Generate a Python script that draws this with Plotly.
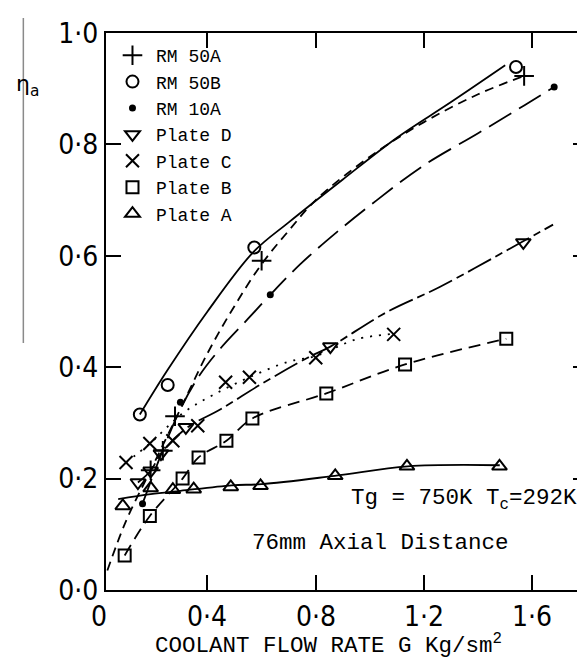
import plotly.graph_objects as go

# ---------------- data ----------------
rm50a_x = [0.19, 0.235, 0.28, 0.60, 1.57]
rm50a_y = [0.215, 0.25, 0.312, 0.591, 0.923]
rm50a_cx = [0.03, 0.1, 0.2, 0.3, 0.4, 0.5, 0.6, 0.7, 0.8, 1.0, 1.2, 1.4, 1.57]
rm50a_cy = [0.035, 0.125, 0.225, 0.325, 0.425, 0.51, 0.585, 0.645, 0.70, 0.778, 0.84, 0.89, 0.923]

rm50b_x = [0.15, 0.253, 0.573, 1.54]
rm50b_y = [0.315, 0.368, 0.615, 0.939]
rm50b_cx = [0.15, 0.25, 0.4, 0.57, 0.7, 0.9, 1.1, 1.3, 1.5]
rm50b_cy = [0.315, 0.393, 0.50, 0.607, 0.66, 0.737, 0.812, 0.876, 0.942]

rm10a_x = [0.16, 0.30, 0.632, 1.681]
rm10a_y = [0.155, 0.337, 0.530, 0.903]
rm10a_cx = [0.16, 0.23, 0.30, 0.37, 0.45, 0.55, 0.632, 0.743, 0.879, 1.026, 1.198, 1.40, 1.57, 1.681]
rm10a_cy = [0.155, 0.245, 0.325, 0.385, 0.435, 0.487, 0.53, 0.585, 0.643, 0.70, 0.762, 0.82, 0.87, 0.903]

plated_x = [0.143, 0.19, 0.228, 0.32, 0.854, 1.567]
plated_y = [0.193, 0.214, 0.245, 0.292, 0.437, 0.624]
plated_cx = [0.143, 0.19, 0.228, 0.32, 0.45, 0.6, 0.77, 0.854, 1.063, 1.258, 1.54, 1.677]
plated_cy = [0.193, 0.214, 0.245, 0.29, 0.325, 0.37, 0.417, 0.437, 0.499, 0.544, 0.619, 0.656]

platec_x = [0.099, 0.187, 0.272, 0.364, 0.467, 0.555, 0.80, 1.088]
platec_y = [0.229, 0.263, 0.268, 0.295, 0.373, 0.382, 0.417, 0.459]
platec_cx = [0.099, 0.187, 0.31, 0.42, 0.555, 0.7, 0.8, 0.95, 1.088]
platec_cy = [0.229, 0.263, 0.318, 0.35, 0.382, 0.41, 0.42, 0.45, 0.46]

plateb_x = [0.094, 0.187, 0.308, 0.367, 0.47, 0.566, 0.839, 1.13, 1.504]
plateb_y = [0.062, 0.133, 0.2, 0.238, 0.268, 0.308, 0.353, 0.405, 0.451]

platea_x = [0.087, 0.19, 0.272, 0.349, 0.486, 0.596, 0.872, 1.137, 1.479]
platea_y = [0.151, 0.183, 0.18, 0.181, 0.185, 0.187, 0.205, 0.222, 0.222]
platea_cx = [0.07, 0.19, 0.3, 0.49, 0.6, 0.87, 1.14, 1.48]
platea_cy = [0.163, 0.172, 0.178, 0.188, 0.19, 0.205, 0.222, 0.224]

x_ticks = [0.0, 0.4, 0.8, 1.2, 1.6]
x_tick_labels = ["0", "0·4", "0·8", "1·2", "1·6"]
y_ticks = [0.0, 0.2, 0.4, 0.6, 0.8, 1.0]
y_tick_labels = ["0·0", "0·2", "0·4", "0·6", "0·8", "1·0"]

x_range = [0.025, 1.806]
y_range = [0.0, 1.0]

# ---------------- layout constants ----------------
W, H = 585, 659
ML, MR, MT, MB = 98, 3, 25, 77
PW, PH = W - ML - MR, H - MT - MB

MONO = "Liberation Mono, Courier New, monospace"
TICKF = "DejaVu Sans Condensed, DejaVu Sans, sans-serif"
BLK = "black"

fig = go.Figure()

def curve(x, y, dash):
    fig.add_trace(go.Scatter(x=x, y=y, mode="lines", showlegend=False,
                             line=dict(color=BLK, width=1.8, dash=dash, shape="spline", smoothing=1.0),
                             hoverinfo="skip"))

curve(rm50b_cx, rm50b_cy, "solid")
curve(rm50a_cx, rm50a_cy, "9px,6px")
curve(rm10a_cx, rm10a_cy, "26px,9px")
curve(plated_cx, plated_cy, "26px,5px,8px,5px")
curve(platec_cx, platec_cy, "2px,7px")
curve(plateb_x, plateb_y, "12px,7px")
curve(platea_cx, platea_cy, "solid")

def pts(x, y, name, symbol, size, lw=2):
    fig.add_trace(go.Scatter(x=x, y=y, mode="markers", name=name,
                             marker=dict(symbol=symbol, size=size, color=BLK,
                                         line=dict(color=BLK, width=lw))))

pts(rm50a_x, rm50a_y, "RM 50A", "cross-thin-open", 14)
pts(rm50b_x, rm50b_y, "RM 50B", "circle-open", 12)
pts(rm10a_x, rm10a_y, "RM 10A", "circle", 7, 0)
pts(plated_x, plated_y, "Plate D", "triangle-down-open", 13)
pts(platec_x, platec_y, "Plate C", "x-thin-open", 13)
pts(plateb_x, plateb_y, "Plate B", "square-open", 12)
pts(platea_x, platea_y, "Plate A", "triangle-up-open", 13)

axis_common = dict(showline=True, linecolor=BLK, linewidth=2, mirror="ticks",
                   ticks="inside", ticklen=15, tickwidth=2, tickcolor=BLK,
                   showgrid=False, zeroline=False,
                   tickfont=dict(family=TICKF, size=28, color=BLK))

fig.update_xaxes(range=x_range, tickvals=x_ticks, showticklabels=False, **axis_common)
fig.update_yaxes(range=y_range, tickvals=y_ticks, ticktext=y_tick_labels,
                 ticklabelstandoff=0, **axis_common)

def xpaper(v):
    return (v - x_range[0]) / (x_range[1] - x_range[0])

XLAB_Y = (MT + PH - 608) / PH
annotations = [
    dict(x=xpaper(v), y=XLAB_Y, xref="paper", yref="paper", text=t, showarrow=False,
         xanchor="center", yanchor="middle",
         font=dict(family=TICKF, size=28, color=BLK))
    for v, t in zip(x_ticks, x_tick_labels)
]
annotations += [
    dict(x=1.773, y=0.162, xref="x", yref="y", text="Tg = 750K T<sub>c</sub>=292K",
         showarrow=False, xanchor="right", yanchor="middle",
         font=dict(family=MONO, size=22.5, color=BLK)),
    dict(x=1.522, y=0.084, xref="x", yref="y", text="76mm Axial Distance",
         showarrow=False, xanchor="right", yanchor="middle",
         font=dict(family=MONO, size=22.5, color=BLK)),
    dict(x=(321 - ML) / PW, y=(MT + PH - 636) / PH, xref="paper", yref="paper",
         text="COOLANT FLOW RATE G Kg/sm<sup>2</sup>", showarrow=False,
         xanchor="center", yanchor="middle",
         font=dict(family=MONO, size=22.5, color=BLK)),
    dict(x=(6 - ML) / PW, y=(MT + PH - 78) / PH, xref="paper", yref="paper",
         text="η<sub>a</sub>", showarrow=False, xanchor="left", yanchor="middle",
         font=dict(family="DejaVu Sans, sans-serif", size=22, color=BLK)),
]

shapes = [
    dict(type="line", xref="paper", yref="paper",
         x0=(15 - ML) / PW, x1=(15 - ML) / PW,
         y0=(MT + PH - 10) / PH, y1=(MT + PH - 335) / PH,
         line=dict(color="#8a8a8a", width=1.5)),
]

fig.update_layout(
    width=W, height=H,
    margin=dict(l=ML, r=MR, t=MT, b=MB, pad=0),
    paper_bgcolor="white", plot_bgcolor="white",
    showlegend=True,
    legend=dict(x=(101 - ML) / PW, y=(MT + PH - 29) / PH, xanchor="left", yanchor="top",
                bgcolor="rgba(0,0,0,0)", borderwidth=0, itemwidth=37,
                font=dict(family=MONO, size=18, color=BLK), tracegroupgap=0),
    annotations=annotations, shapes=shapes,
)

fig.write_html("out.html")
